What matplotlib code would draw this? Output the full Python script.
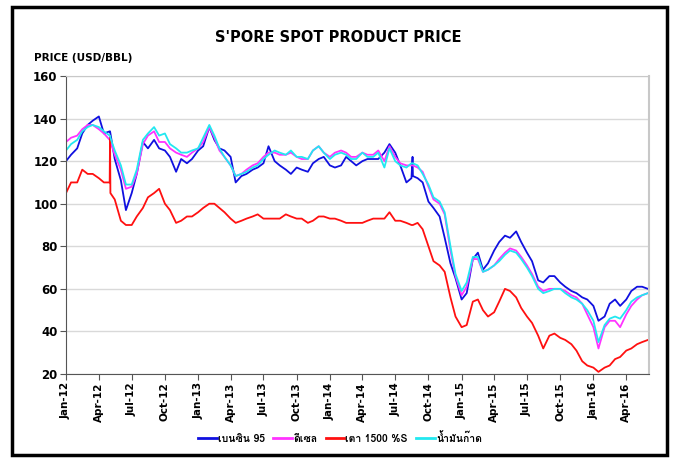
import matplotlib
matplotlib.use("Agg")
import matplotlib.pyplot as plt
import matplotlib.dates as mdates
from matplotlib import font_manager as fm
from matplotlib.patches import Rectangle
import pandas as pd

# ---------------- data ----------------
base_dates = pd.date_range("2012-01-01", "2016-05-15", freq="SMS")
extra_dates = pd.to_datetime(["2012-05-02", "2012-05-03", "2014-08-18", "2014-08-19", "2016-05-31"])
dates = base_dates.append(extra_dates).sort_values()

gasoline95 = [
    120, 123, 126, 133, 137, 139, 141, 133, 134, 134, 133, 121, 111, 97, 105, 114, 129, 126, 130, 126, 125, 122, 115, 121, 119, 121,
    125, 127, 136, 130, 126, 125, 122, 110, 113, 114, 116, 117, 119, 127, 120, 118, 116, 114, 117, 116, 115, 119, 121, 122,
    118, 117, 118, 122, 120, 118, 120, 121, 121, 121, 124, 128, 124, 118, 110, 112, 122, 113, 112, 110, 101, 98, 94, 84, 72, 65,
    55, 58, 74, 77, 69, 72, 78, 82, 85, 84, 87, 82, 77, 73, 64, 63, 66, 66, 63, 61, 59, 58, 56, 55,
    52, 45, 47, 53, 55, 52, 55, 59, 61, 61, 60,
]
diesel = [
    129, 131, 132, 135, 137, 137, 135, 133, 130, 130, 129, 123, 116, 107, 108, 114, 128, 132, 134, 129, 129, 126, 124, 123, 122, 124,
    126, 129, 136, 131, 125, 122, 118, 113, 114, 116, 118, 119, 122, 124, 124, 123, 123, 124, 122, 121, 121, 125, 127, 124,
    122, 124, 125, 124, 122, 122, 124, 123, 123, 125, 120, 127, 122, 119, 118, 118, 118, 118, 117, 115, 108, 102, 100, 95, 78, 66,
    57, 61, 74, 74, 68, 69, 71, 74, 77, 79, 78, 75, 71, 67, 61, 59, 60, 60, 60, 59, 57, 56, 53, 48,
    42, 32, 42, 45, 45, 42, 48, 52, 55, 57, 58,
]
fuel_oil = [
    105, 110, 110, 116, 114, 114, 112, 110, 110, 132, 105, 102, 92, 90, 90, 94, 98, 103, 105, 107, 100, 97, 91, 92, 94, 94,
    96, 98, 100, 100, 98, 96, 93, 91, 92, 93, 94, 95, 93, 93, 93, 93, 95, 94, 93, 93, 91, 92, 94, 94,
    93, 93, 92, 91, 91, 91, 91, 92, 93, 93, 93, 96, 92, 92, 91, 90, 90, 90, 91, 88, 80, 73, 71, 68, 56, 47,
    42, 43, 54, 55, 50, 47, 49, 54, 60, 59, 56, 51, 47, 44, 38, 32, 38, 39, 37, 36, 34, 31, 26, 24,
    23, 21, 23, 24, 27, 28, 31, 32, 34, 35, 36,
]
kerosene = [
    125, 128, 130, 134, 136, 137, 136, 134, 132, 132, 131, 125, 118, 109, 109, 116, 130, 133, 136, 132, 133, 128, 126, 124, 124, 125,
    126, 131, 137, 132, 126, 122, 118, 113, 114, 115, 117, 118, 121, 123, 125, 124, 123, 125, 122, 122, 121, 125, 127, 124,
    121, 123, 124, 123, 121, 121, 124, 122, 122, 124, 117, 126, 120, 118, 117, 119, 119, 119, 118, 114, 109, 103, 101, 96, 80, 67,
    59, 63, 75, 75, 68, 69, 71, 73, 76, 78, 77, 74, 70, 66, 60, 58, 59, 60, 60, 58, 56, 55, 53, 50,
    45, 35, 43, 46, 47, 46, 50, 54, 56, 57, 58,
]
series_labels = ["เบนซิน 95", "ดีเซล", "เตา 1500 %S", "น้ำมันก๊าด"]
series_colors = ["#1010E0", "#FF33FF", "#FF1010", "#22E8F0"]

# ---------------- fonts ----------------
def find_thai_family():
    try:
        from fontTools.ttLib import TTFont
    except Exception:
        return None
    for f in fm.fontManager.ttflist:
        try:
            tt = TTFont(f.fname, fontNumber=0, lazy=True)
            cmap = tt.getBestCmap()
            if cmap and 0x0E40 in cmap and 0x0E49 in cmap:
                return f.name
        except Exception:
            continue
    return None

thai = find_thai_family()
legend_family = [thai, "DejaVu Sans"] if thai else ["DejaVu Sans"]
plt.rcParams["font.family"] = ["DejaVu Sans"]

# ---------------- figure ----------------
fig = plt.figure(figsize=(6.76, 4.61), dpi=100)
fig.patch.set_facecolor("white")
fig.add_artist(Rectangle((12 / 676, 6 / 461), 655 / 676, 448 / 461, transform=fig.transFigure,
                         fill=False, edgecolor="black", linewidth=2.5))

ax = fig.add_axes([66 / 676, (461 - 374) / 461, (649 - 66) / 676, (374 - 76) / 461])
all_series = [gasoline95, diesel, fuel_oil, kerosene]
for vals, lab, col in zip(all_series, series_labels, series_colors):
    ax.plot(dates, vals, color=col, linewidth=1.3, label=lab)

ax.set_ylim(20, 160)
ax.set_yticks(range(20, 161, 20))
ax.set_xlim(pd.Timestamp("2012-01-01"), pd.Timestamp("2016-06-03"))
ax.xaxis.set_major_locator(mdates.MonthLocator(bymonth=[1, 4, 7, 10]))
ax.xaxis.set_major_formatter(mdates.DateFormatter("%b-%y"))
ax.grid(axis="y", color="#D9D9D9", linewidth=1)
ax.set_axisbelow(True)
for lbl in ax.get_xticklabels():
    lbl.set_rotation(90)
    lbl.set_fontweight("bold")
    lbl.set_fontsize(7.5)
for lbl in ax.get_yticklabels():
    lbl.set_fontweight("bold")
    lbl.set_fontsize(8.5)
ax.tick_params(axis="both", direction="out", length=4, width=0.8, color="#555555", pad=2)
ax.spines["top"].set_color("#C8C8C8")
ax.spines["right"].set_color("#C8C8C8")
ax.spines["right"].set_linewidth(1.5)
ax.spines["left"].set_color("#555555")
ax.spines["bottom"].set_color("#555555")

fig.text(338 / 676, 1 - 38 / 461, "S'PORE SPOT PRODUCT PRICE", ha="center", va="center",
         fontsize=10.5, fontweight="bold")
fig.text(34 / 676, 1 - 58 / 461, "PRICE (USD/BBL)", ha="left", va="center",
         fontsize=7.5, fontweight="bold")

leg = fig.legend(loc="center", bbox_to_anchor=(340 / 676, 1 - 438 / 461), ncol=4, frameon=False,
                 handlelength=1.8, handletextpad=0.1, columnspacing=0.8,
                 prop={"family": legend_family, "weight": "bold", "size": 7.5})
for h in leg.get_lines():
    h.set_linewidth(2)

fig.savefig("out.png", dpi=100, facecolor="white")
